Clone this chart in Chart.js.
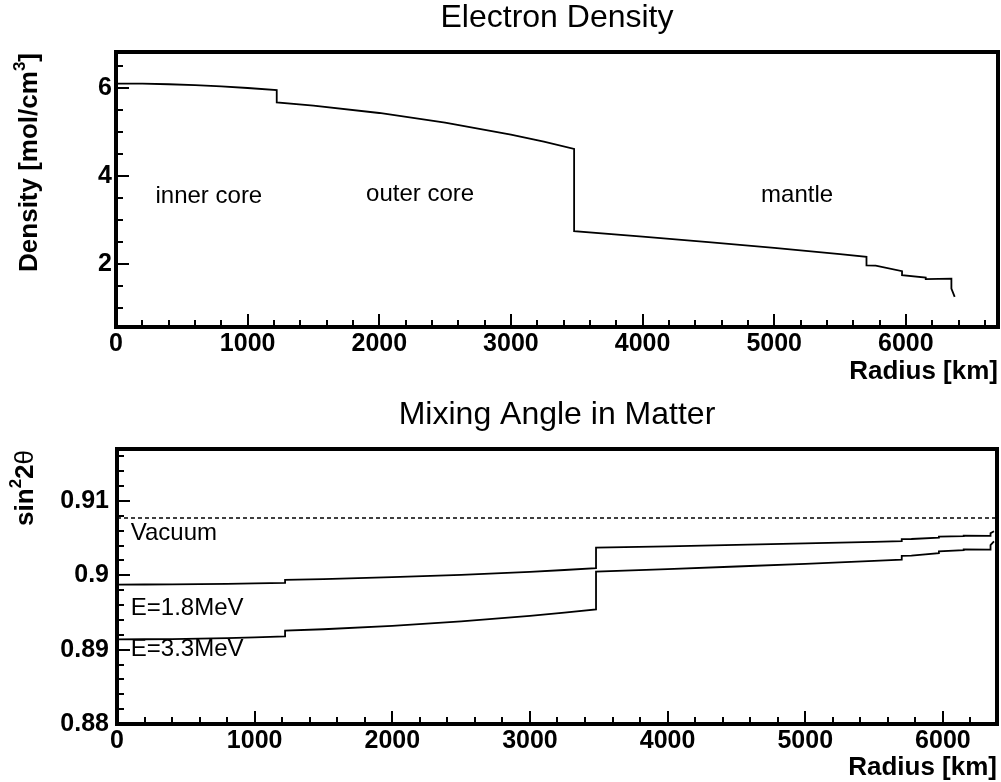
<!DOCTYPE html>
<html>
<head>
<meta charset="utf-8">
<script src="https://cdn.jsdelivr.net/npm/chart.js@4.4.1/dist/chart.umd.min.js"></script>
<style>
  html, body { margin: 0; padding: 0; background: #fff; }
  #top { position: absolute; left: 0; top: 0; width: 1001px; height: 390px; }
  #bot { position: absolute; left: 0; top: 390px; width: 1001px; height: 392px; }
</style>
</head>
<body>
<div id="top"><canvas id="densityChart"></canvas></div>
<div id="bot"><canvas id="mixingChart"></canvas></div>
<script>
// radius [km], steps are repeated radii
const radius = [
  0, 200, 400, 600, 800, 1000, 1221, 1221,
  1500, 2000, 2500, 3000, 3250, 3480, 3480,
  4000, 4500, 5000, 5500, 5701, 5701, 5771, 5971, 5971,
  6151, 6151, 6346, 6346, 6371
];
// electron density [mol/cm3]
const density = [
  6.108, 6.104, 6.092, 6.072, 6.043, 6.007, 5.957, 5.678,
  5.605, 5.439, 5.222, 4.948, 4.786, 4.622, 2.755,
  2.627, 2.502, 2.371, 2.229, 2.168, 1.976, 1.968, 1.843, 1.754,
  1.700, 1.663, 1.673, 1.45, 1.26
];
// sin^2 2theta in matter
const mixingLow = [   // E = 1.8 MeV
  0.89876, 0.89877, 0.89878, 0.89881, 0.89886, 0.89891, 0.89898, 0.89940,
  0.89950, 0.89975, 0.90007, 0.90048, 0.90072, 0.90096, 0.90372,
  0.90391, 0.90410, 0.90429, 0.90450, 0.90459, 0.90488, 0.90489, 0.90507, 0.90520,
  0.90528, 0.90534, 0.90532, 0.90565, 0.90594
];
const mixingHigh = [  // E = 3.3 MeV
  0.89139, 0.89140, 0.89143, 0.89148, 0.89156, 0.89166, 0.89180, 0.89256,
  0.89275, 0.89321, 0.89380, 0.89454, 0.89498, 0.89543, 0.90051,
  0.90085, 0.90119, 0.90155, 0.90194, 0.90210, 0.90263, 0.90265, 0.90299, 0.90323,
  0.90338, 0.90348, 0.90345, 0.90406, 0.90457
];
const vacuumRadius = [0, 6393];
const vacuumMixing = [0.9077, 0.9077];

const radiusTicks = [0, 1000, 2000, 3000, 4000, 5000, 6000];
const densityTicks = [2, 4, 6];
const mixingTicks = [0.88, 0.89, 0.9, 0.91];
const mixingTickLabels = ["0.88", "0.89", "0.9", "0.91"];

const FONT = '"Liberation Sans", Arial, Helvetica, sans-serif';

function pts(xs, ys) {
  return xs.map((x, i) => ({ x: x, y: ys[i] }));
}

// draw text made of pieces (for superscripts), anchored left or right
function rich(ctx, parts, x, y, align) {
  let total = 0;
  for (const p of parts) { ctx.font = p.font; total += ctx.measureText(p.t).width; }
  let cx = align === 'right' ? x - total : x;
  ctx.textAlign = 'left';
  ctx.textBaseline = 'middle';
  for (const p of parts) {
    ctx.font = p.font;
    ctx.fillText(p.t, cx, y + (p.dy || 0));
    cx += ctx.measureText(p.t).width;
  }
}

function stepValues(min, max, step) {
  const out = [];
  for (let k = Math.ceil(min / step - 1e-9); k * step <= max + 1e-9; k++) out.push(k * step);
  return out;
}

const rootFrame = {
  id: 'rootFrame',
  afterDraw(chart, args, o) {
    const { ctx, chartArea: a } = chart;
    const xs = chart.scales.x, ys = chart.scales.y;
    ctx.save();
    ctx.fillStyle = '#000';
    ctx.strokeStyle = '#000';

    // inward ticks on bottom and left
    ctx.lineWidth = 2;
    ctx.beginPath();
    for (const v of stepValues(xs.min, xs.max, o.xMinor)) {
      const major = o.xMajor.some(m => Math.abs(m - v) < 1e-6);
      const px = Math.round(xs.getPixelForValue(v));
      ctx.moveTo(px, a.bottom);
      ctx.lineTo(px, a.bottom - (major ? 13 : 7));
    }
    for (const v of stepValues(ys.min, ys.max, o.yMinor)) {
      const major = o.yMajor.some(m => Math.abs(m - v) < 1e-6);
      const py = Math.round(ys.getPixelForValue(v));
      ctx.moveTo(a.left, py);
      ctx.lineTo(a.left + (major ? 13 : 7), py);
    }
    ctx.stroke();

    ctx.lineWidth = 4;
    ctx.strokeRect(a.left, a.top, a.right - a.left, a.bottom - a.top);

    // title
    ctx.font = '32px ' + FONT;
    ctx.textAlign = 'center';
    ctx.textBaseline = 'middle';
    ctx.fillText(o.title, (a.left + a.right) / 2, o.titleY);

    // x axis title, right aligned
    ctx.font = 'bold 26px ' + FONT;
    ctx.textAlign = 'right';
    ctx.fillText('Radius [km]', a.right, o.xTitleY);

    // y axis title, rotated, right aligned at top
    ctx.save();
    ctx.translate(o.yTitleX, a.top + 1);
    ctx.rotate(-Math.PI / 2);
    rich(ctx, o.yTitle, 0, 0, 'right');
    ctx.restore();

    // notes at data coordinates
    ctx.font = '24px ' + FONT;
    ctx.textAlign = 'left';
    ctx.textBaseline = 'middle';
    for (const n of o.notes) {
      ctx.fillText(n.t, xs.getPixelForValue(n.x), ys.getPixelForValue(n.y));
    }
    ctx.restore();
  }
};

function baseOptions(xMax, yMin, yMax, yTicksList, yLabel, yPad, padding, xAxisHeight, yAxisWidth, frame) {
  return {
    responsive: true,
    maintainAspectRatio: false,
    animation: false,
    events: [],
    layout: { padding: padding },
    plugins: { legend: { display: false }, tooltip: { enabled: false }, rootFrame: frame },
    scales: {
      x: {
        type: 'linear', min: 0, max: xMax,
        grid: { display: false, drawTicks: false },
        border: { display: false },
        afterBuildTicks: s => { s.ticks = radiusTicks.map(v => ({ value: v })); },
        afterFit: s => { s.height = xAxisHeight; },
        ticks: {
          color: '#000', padding: 2, maxRotation: 0, autoSkip: false,
          font: { family: FONT, size: 25, weight: 'bold' },
          callback: v => String(v)
        }
      },
      y: {
        type: 'linear', min: yMin, max: yMax,
        grid: { display: false, drawTicks: false },
        border: { display: false },
        afterBuildTicks: s => { s.ticks = yTicksList.map(v => ({ value: v })); },
        afterFit: s => { s.width = yAxisWidth; },
        ticks: {
          color: '#000', padding: yPad, autoSkip: false,
          font: { family: FONT, size: 25, weight: 'bold' },
          callback: yLabel
        }
      }
    }
  };
}

const lineStyle = { showLine: true, pointRadius: 0, borderColor: '#000', borderWidth: 1.8, tension: 0, fill: false };

new Chart(document.getElementById('densityChart'), {
  type: 'scatter',
  data: {
    datasets: [
      Object.assign({ label: 'Electron density', data: pts(radius, density) }, lineStyle)
    ]
  },
  options: baseOptions(6700, 0.575, 6.825, densityTicks, v => String(v), 4,
    { left: 0, right: 3, top: 52, bottom: 23 }, 40, 116,
    {
      title: 'Electron Density', titleY: 18, xTitleY: 372, yTitleX: 30,
      yTitle: [
        { t: 'Density [mol/cm', font: 'bold 26px ' + FONT },
        { t: '3', font: 'bold 17px ' + FONT, dy: -10 },
        { t: ']', font: 'bold 26px ' + FONT }
      ],
      xMajor: radiusTicks, xMinor: 200, yMajor: densityTicks, yMinor: 0.5,
      notes: [
        { t: 'inner core', x: 300, y: 3.55 },
        { t: 'outer core', x: 1900, y: 3.6 },
        { t: 'mantle', x: 4900, y: 3.57 }
      ]
    }),
  plugins: [rootFrame]
});

new Chart(document.getElementById('mixingChart'), {
  type: 'scatter',
  data: {
    datasets: [
      Object.assign({ label: 'E=1.8MeV', data: pts(radius, mixingLow) }, lineStyle),
      Object.assign({ label: 'E=3.3MeV', data: pts(radius, mixingHigh) }, lineStyle),
      Object.assign({ label: 'Vacuum', data: pts(vacuumRadius, vacuumMixing) }, lineStyle, { borderDash: [4, 3], borderWidth: 1.5 })
    ]
  },
  options: baseOptions(6393, 0.88, 0.917, mixingTicks, (v, i) => mixingTickLabels[i], 8,
    { left: 0, right: 4, top: 59, bottom: 18 }, 40, 117,
    {
      title: 'Mixing Angle in Matter', titleY: 25, xTitleY: 378, yTitleX: 26,
      yTitle: [
        { t: 'sin', font: 'bold 26px ' + FONT },
        { t: '2', font: 'bold 17px ' + FONT, dy: -10 },
        { t: '2', font: 'bold 26px ' + FONT },
        { t: '\u03b8', font: '26px ' + FONT }
      ],
      xMajor: radiusTicks, xMinor: 200, yMajor: mixingTicks, yMinor: 0.002,
      notes: [
        { t: 'Vacuum', x: 100, y: 0.9057 },
        { t: 'E=1.8MeV', x: 100, y: 0.8956 },
        { t: 'E=3.3MeV', x: 100, y: 0.8900 }
      ]
    }),
  plugins: [rootFrame]
});
</script>
</body>
</html>
